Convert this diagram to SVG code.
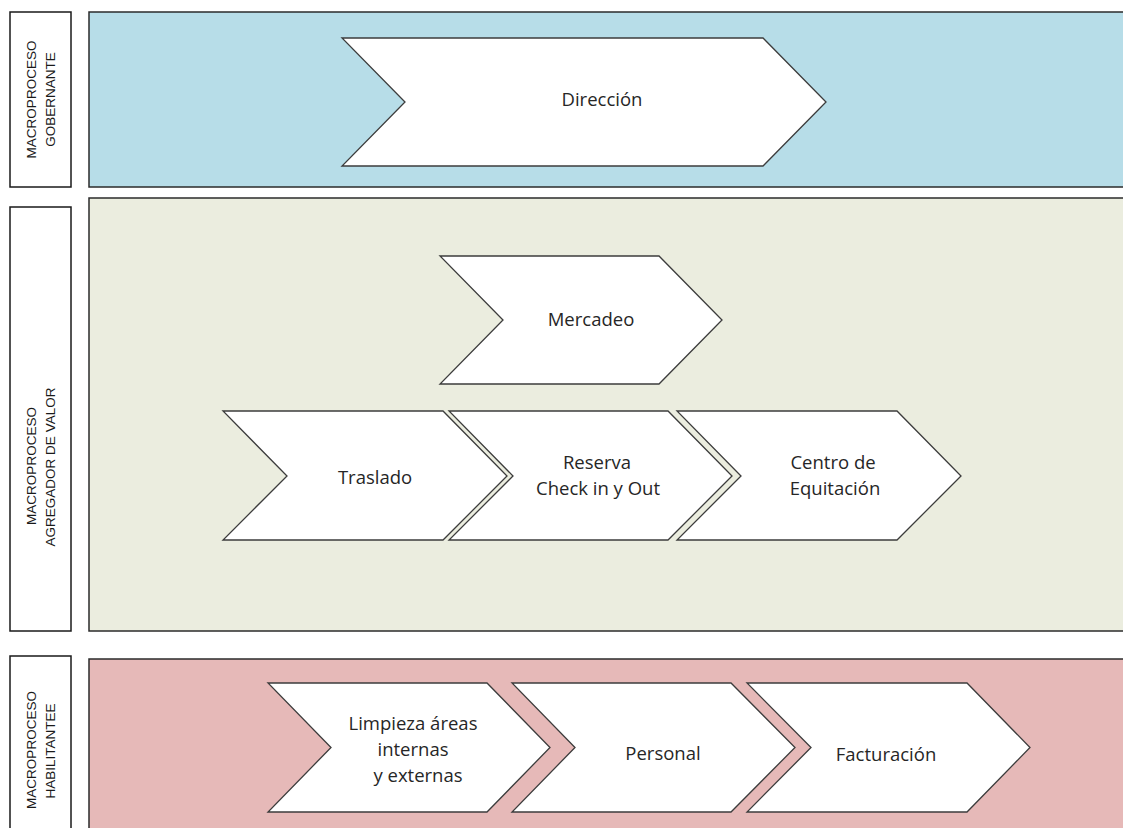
<svg xmlns="http://www.w3.org/2000/svg" width="1123" height="828" viewBox="0 0 1123 828">
  <style>
    .label-box { fill: #ffffff; stroke: #1a1a1a; stroke-width: 1.5; }
    .label-text { font-family: "Liberation Sans", Arial, sans-serif; font-size: 13.5px; fill: #1a1a1a; text-anchor: middle; }
    .band { stroke: #2b2b2b; stroke-width: 1.5; }
    .chev { fill: #ffffff; stroke: #3c3c3c; stroke-width: 1.3; stroke-linejoin: miter; }
    .chev-text { font-family: "Open Sans", "Liberation Sans", sans-serif; font-size: 18.5px; fill: #262626; text-anchor: middle; }
  </style>

  <rect x="0" y="0" width="1123" height="828" fill="#ffffff"/>

  <!-- Bands -->
  <g id="band-gobernante">
    <rect class="band" x="89" y="12" width="1040" height="175" fill="#b7dde8"/>
  </g>
  <g id="band-agregador">
    <rect class="band" x="89" y="198" width="1040" height="433" fill="#ebeddf"/>
  </g>
  <g id="band-habilitante">
    <rect class="band" x="89" y="659" width="1040" height="180" fill="#e6b9b8"/>
  </g>

  <!-- Side labels -->
  <g id="label-gobernante">
    <rect class="label-box" x="10" y="12" width="61" height="175"/>
    <text class="label-text" transform="translate(35.5,99.5) rotate(-90)">MACROPROCESO</text>
    <text class="label-text" transform="translate(54.5,99.5) rotate(-90)">GOBERNANTE</text>
  </g>
  <g id="label-agregador">
    <rect class="label-box" x="10" y="207" width="61" height="424"/>
    <text class="label-text" transform="translate(35.5,466) rotate(-90)">MACROPROCESO</text>
    <text class="label-text" transform="translate(54.5,467) rotate(-90)">AGREGADOR DE VALOR</text>
  </g>
  <g id="label-habilitante">
    <rect class="label-box" x="10" y="656" width="61" height="190"/>
    <text class="label-text" transform="translate(35.5,750) rotate(-90)">MACROPROCESO</text>
    <text class="label-text" transform="translate(54.5,751) rotate(-90)">HABILITANTEE</text>
  </g>

  <!-- Process chevrons -->
  <g id="direccion">
    <polygon class="chev" points="342,38 763,38 826,102 763,166 342,166 405,102"/>
    <text class="chev-text" x="602" y="106">Dirección</text>
  </g>

  <g id="mercadeo">
    <polygon class="chev" points="440,256 659,256 722,320 659,384 440,384 503,320"/>
    <text class="chev-text" x="591" y="326">Mercadeo</text>
  </g>

  <g id="traslado">
    <polygon class="chev" points="223,411 443,411 507,476 443,540 223,540 287,476"/>
    <text class="chev-text" x="375" y="484">Traslado</text>
  </g>

  <g id="reserva">
    <polygon class="chev" points="449,411 668,411 732,476 668,540 449,540 513,476"/>
    <text class="chev-text" x="597" y="469">Reserva</text>
    <text class="chev-text" x="598" y="495">Check in y Out</text>
  </g>

  <g id="equitacion">
    <polygon class="chev" points="677,411 897,411 961,476 897,540 677,540 741,476"/>
    <text class="chev-text" x="833" y="469">Centro de</text>
    <text class="chev-text" x="835" y="495">Equitación</text>
  </g>

  <g id="limpieza">
    <polygon class="chev" points="268,683 487,683 550,747.5 487,812 268,812 331,747.5"/>
    <text class="chev-text" x="413" y="730">Limpieza áreas</text>
    <text class="chev-text" x="413" y="756">internas</text>
    <text class="chev-text" x="418" y="782">y externas</text>
  </g>

  <g id="personal">
    <polygon class="chev" points="512,683 731,683 795,747.5 731,812 512,812 575,747.5"/>
    <text class="chev-text" x="663" y="760">Personal</text>
  </g>

  <g id="facturacion">
    <polygon class="chev" points="747,683 967,683 1030,747.5 967,812 747,812 811,747.5"/>
    <text class="chev-text" x="886" y="761">Facturación</text>
  </g>

  <!-- No connectors: the process flow is shown by the chevron sequence -->
  <g id="connectors"/>
</svg>
